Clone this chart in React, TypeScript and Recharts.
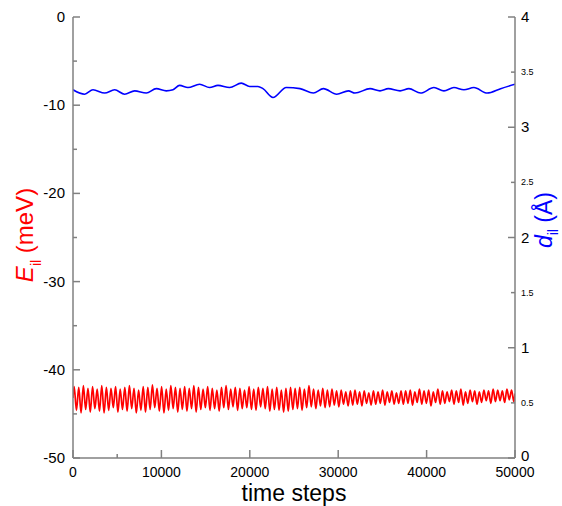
import React from 'react';
import { LineChart, Line, XAxis, YAxis } from 'recharts';

// E_il (meV): one peak and one trough per oscillation, 96 cycles over the run
const redStart = -43.2;
const redEnd = -42.7;
const redPeaks = [
  -41.9, -42.0, -41.8, -42.1, -41.9, -42.2, -41.8, -42.0, -42.1, -41.9, -42.2, -42.0,
  -41.8, -42.1, -42.3, -41.9, -42.0, -41.7, -42.1, -41.9, -42.2, -41.8, -42.0, -42.1,
  -41.9, -42.1, -41.8, -42.0, -42.2, -41.9, -42.1, -42.3, -42.0, -41.8, -42.2, -42.0,
  -42.1, -42.3, -41.9, -42.2, -42.0, -42.1, -41.9, -42.2, -42.0, -42.3, -42.1, -42.0,
  -42.1, -42.0, -42.2, -41.8, -42.2, -42.3, -42.1, -42.3, -42.2, -42.4, -42.3, -42.5,
  -42.4, -42.3, -42.5, -42.4, -42.6, -42.4, -42.5, -42.3, -42.5, -42.4, -42.6, -42.4,
  -42.4, -42.3, -42.5, -42.2, -42.4, -42.3, -42.5, -42.2, -42.4, -42.5, -42.3, -42.4,
  -42.2, -42.5, -42.3, -42.4, -42.5, -42.3, -42.4, -42.2, -42.3, -42.4, -42.2, -42.3,
];
const redTroughs = [
  -44.6, -44.9, -44.5, -44.8, -44.4, -44.7, -44.9, -44.6, -44.3, -44.8, -44.5, -44.7,
  -44.4, -44.9, -44.6, -44.8, -44.5, -44.3, -44.7, -44.9, -44.6, -44.4, -44.8, -44.5,
  -44.7, -44.4, -44.8, -44.5, -44.3, -44.6, -44.4, -44.7, -44.3, -44.5, -44.2, -44.6,
  -44.4, -44.3, -44.5, -44.6, -44.2, -44.4, -44.7, -44.5, -44.6, -44.8, -44.7, -44.5,
  -44.4, -44.6, -44.3, -44.2, -44.4, -44.1, -44.3, -44.2, -44.0, -44.2, -43.9, -44.1,
  -44.0, -43.9, -44.1, -43.8, -44.0, -43.9, -43.8, -44.0, -43.7, -43.9, -43.8, -43.9,
  -43.8, -44.0, -43.7, -43.9, -43.8, -44.1, -43.7, -43.9, -43.8, -43.6, -43.9, -43.7,
  -44.0, -43.8, -43.6, -43.9, -43.7, -43.5, -43.8, -43.6, -43.5, -43.7, -43.4, -43.6,
];
const totalSteps = 50000;

// d_il (Å)
const blueSteps = [
  0, 1320, 2260, 3580, 4710, 5840, 6970, 8290, 9420, 10550, 11310, 12060, 13000, 14320,
  15450, 16400, 17720, 19040, 19980, 20920, 21490, 22620, 24130, 25680, 27190, 28320,
  29830, 31150, 31900, 33600, 34730, 35670, 37000, 38000, 39320, 40830, 41960, 43090,
  44220, 45350, 46860, 48370, 50000,
];
const blueValues = [
  3.34, 3.30, 3.34, 3.31, 3.34, 3.30, 3.33, 3.31, 3.35, 3.33, 3.34, 3.38, 3.36, 3.39,
  3.36, 3.38, 3.36, 3.40, 3.37, 3.37, 3.35, 3.27, 3.36, 3.35, 3.31, 3.35,
  3.30, 3.33, 3.31, 3.35, 3.33, 3.35, 3.33, 3.35, 3.31, 3.36, 3.33, 3.36,
  3.34, 3.36, 3.31, 3.35, 3.39,
];

const xTicks = [0, 5000, 10000, 15000, 20000, 25000, 30000, 35000, 40000, 45000, 50000];
const leftTicks = [0, -5, -10, -15, -20, -25, -30, -35, -40, -45, -50];
const rightTicks = [0, 0.5, 1, 1.5, 2, 2.5, 3, 3.5, 4];

const period = totalSteps / redPeaks.length;
const redData = [{ t: 0, e: redStart }];
redPeaks.forEach((p, i) => {
  redData.push({ t: (i + 0.25) * period, e: p });
  redData.push({ t: (i + 0.75) * period, e: redTroughs[i] });
});
redData.push({ t: totalSteps, e: redEnd });

const blueData = blueSteps.map((t, i) => ({ t, d: blueValues[i] }));

const AXIS = '#808080';
const FONT = '"Liberation Sans", Arial, sans-serif';

const LeftTick = (props: any) => {
  const { x, y, payload } = props;
  const major = payload.value % 10 === 0;
  return (
    <g>
      <line x1={x} x2={x + (major ? 7 : 4)} y1={y} y2={y} stroke={AXIS} strokeWidth={1.5} />
      {major && (
        <text x={x - 8} y={y} dy={5} textAnchor="end" fontSize={15} fontFamily={FONT} fill="#000">
          {payload.value}
        </text>
      )}
    </g>
  );
};

const RightTick = (props: any) => {
  const { x, y, payload } = props;
  const major = Number.isInteger(payload.value);
  // the bottom "0" sits a little higher so it clears the x labels
  const shift = payload.value === 0 ? 3 : major ? 5 : 3;
  return (
    <g>
      <line x1={x} x2={x - (major ? 7 : 4)} y1={y} y2={y} stroke={AXIS} strokeWidth={1.5} />
      <text
        x={x + 6}
        y={y}
        dy={shift}
        textAnchor="start"
        fontSize={major ? 15 : 9}
        fontFamily={FONT}
        fill="#000"
      >
        {payload.value}
      </text>
    </g>
  );
};

const BottomTick = (props: any) => {
  const { x, y, payload } = props;
  const major = payload.value % 10000 === 0;
  return (
    <g>
      <line x1={x} x2={x} y1={y} y2={y - (major ? 8 : 4)} stroke={AXIS} strokeWidth={1.5} />
      {major && (
        <text x={x} y={y + 19} textAnchor="middle" fontSize={14} fontFamily={FONT} fill="#000">
          {payload.value}
        </text>
      )}
    </g>
  );
};

export default function App() {
  return (
    <div style={{ position: 'absolute', left: 0, top: 0, width: 562, height: 506, background: '#fff', overflow: 'hidden' }}>
      <LineChart width={562} height={506} margin={{ top: 17, right: 0, bottom: 0, left: 0 }}>
        <XAxis
          type="number"
          dataKey="t"
          domain={[0, 50000]}
          ticks={xTicks}
          height={48}
          stroke={AXIS}
          strokeWidth={1.5}
          tickLine={false}
          tickSize={0}
          tickMargin={0}
          tick={(p: any) => <BottomTick {...p} />}
          allowDataOverflow
        />
        <YAxis
          yAxisId="left"
          orientation="left"
          domain={[-50, 0]}
          ticks={leftTicks}
          width={73}
          stroke={AXIS}
          strokeWidth={1.5}
          tickLine={false}
          tickSize={0}
          tickMargin={0}
          tick={(p: any) => <LeftTick {...p} />}
          allowDataOverflow
        />
        <YAxis
          yAxisId="right"
          orientation="right"
          domain={[0, 4]}
          ticks={rightTicks}
          width={47}
          stroke={AXIS}
          strokeWidth={1.5}
          tickLine={false}
          tickSize={0}
          tickMargin={0}
          tick={(p: any) => <RightTick {...p} />}
          allowDataOverflow
        />
        <Line
          yAxisId="left"
          data={redData}
          dataKey="e"
          type="monotone"
          stroke="#ff0000"
          strokeWidth={1.7}
          dot={false}
          isAnimationActive={false}
        />
        <Line
          yAxisId="right"
          data={blueData}
          dataKey="d"
          type="monotone"
          stroke="#0000ff"
          strokeWidth={1.6}
          dot={false}
          isAnimationActive={false}
        />
      </LineChart>
      <svg
        width={562}
        height={506}
        style={{ position: 'absolute', left: 0, top: 0, pointerEvents: 'none' }}
      >
        <text transform="translate(33,235) rotate(-90)" textAnchor="middle" fontSize={24} fontFamily={FONT} fill="#ff0000">
          <tspan fontStyle="italic">E</tspan>
          <tspan fontSize={14} dy={8}>il</tspan>
          <tspan dy={-8}> (meV)</tspan>
        </text>
        <text transform="translate(552,220) rotate(-90)" textAnchor="middle" fontSize={23} fontFamily={FONT} fill="#0000ff">
          <tspan fontStyle="italic">d</tspan>
          <tspan fontSize={14} dy={6}>il</tspan>
          <tspan dy={-6}> (Å)</tspan>
        </text>
        <text x={294} y={501} textAnchor="middle" fontSize={23} fontFamily={FONT} fill="#000">
          time steps
        </text>
      </svg>
    </div>
  );
}
